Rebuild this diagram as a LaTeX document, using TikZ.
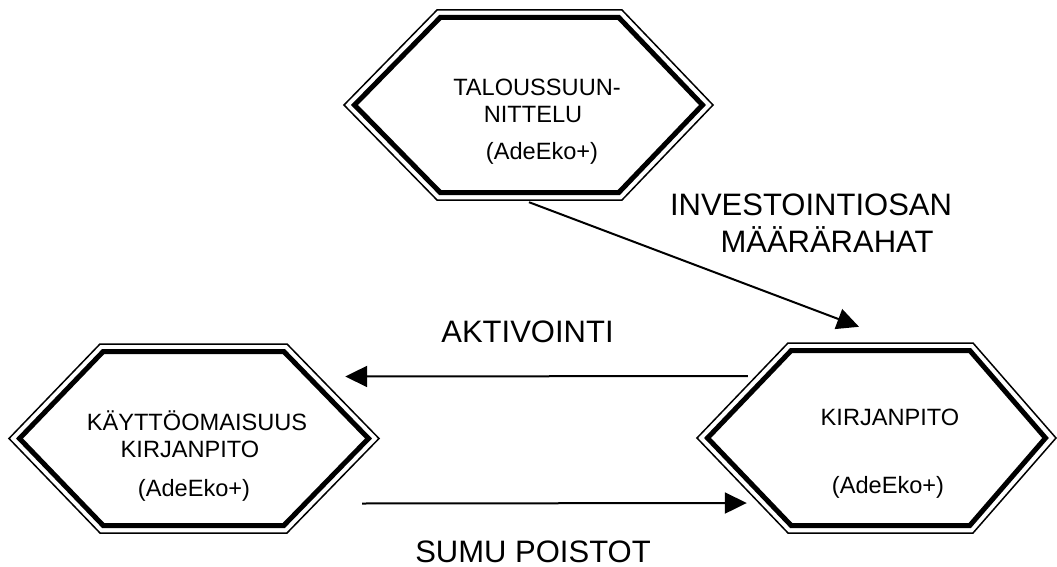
\documentclass[tikz,border=0pt]{standalone}
\usepackage{fontspec}
\setmainfont{Liberation Sans}
\usetikzlibrary{arrows.meta,calc}
\tikzset{
  hexbox/.style={draw=none,rectangle,inner sep=0pt},
  hexthin/.style={line width=1.5pt,line join=miter},
  hexthick/.style={line width=5pt,line join=miter},
  hextext/.style={anchor=base,inner sep=0pt,font=\fontsize{23.6}{27}\selectfont},
  lbl/.style={anchor=base,inner sep=0pt,font=\fontsize{31}{36}\selectfont},
  arr/.style={line width=2pt,-{Triangle[length=22pt,width=21pt]}}
}
\newcommand\hexa[7]{%
  \node[hexbox,minimum width={#5-#2},minimum height={#7-#6}] (#1) at ({(#2+#5)/2},{(#6+#7)/2}) {};
  \draw[hexthin] (#2,{(#6+#7)/2}) -- (#3,#6) -- (#4,#6) -- (#5,{(#6+#7)/2}) -- (#4,#7) -- (#3,#7) -- cycle;
  \draw[hexthick] ({#2+10.5},{(#6+#7)/2}) -- ({#3+3.2},{#6+7.5}) -- ({#4-3.2},{#6+7.5}) -- ({#5-10.5},{(#6+#7)/2}) -- ({#4-3.2},{#7-7.5}) -- ({#3+3.2},{#7-7.5}) -- cycle;
}
\begin{document}
\begin{tikzpicture}[x=1pt,y=-1pt]
\useasboundingbox[fill=white] (0,0) rectangle (1057,567);
% hexagons
\hexa{talous}{344}{437}{622}{713}{10}{200}
\hexa{kayttö}{9}{100}{287}{379}{344}{533}
\hexa{kirja}{697}{788}{973}{1056}{343}{533}
% hexagon texts
\node[hextext] (t1) at (537,96) {TALOUSSUUN-};
\node[hextext] (t2) at (533,123) {NITTELU};
\node[hextext] (t3) at (542,160) {(AdeEko+)};
\node[hextext] (k1) at (197,430) {KÄYTTÖOMAISUUS};
\node[hextext] (k2) at (190,457) {KIRJANPITO};
\node[hextext] (k3) at (194,496) {(AdeEko+)};
\node[hextext] (r1) at (890,425) {KIRJANPITO};
\node[hextext] (r2) at (888,493) {(AdeEko+)};
% labels
\node[lbl] (l1) at (811,215) {INVESTOINTIOSAN};
\node[lbl] (l2) at (827,252) {MÄÄRÄRAHAT};
\node[lbl] (l3) at (527.5,342) {AKTIVOINTI};
\node[lbl] (l4) at (533,562) {SUMU POISTOT};
% connectors
\draw[arr] ($(talous.south)+(0.5,2)$) -- ($(kirja.north)+(-17.5,-16)$);
\draw[arr] ($(kirja.west)+(51,-62)$) -- ($(kayttö.east)+(-34,-62)$);
\draw[arr] ($(kayttö.east)+(-17,65)$) -- ($(kirja.west)+(50,65)$);
\end{tikzpicture}
\end{document}
